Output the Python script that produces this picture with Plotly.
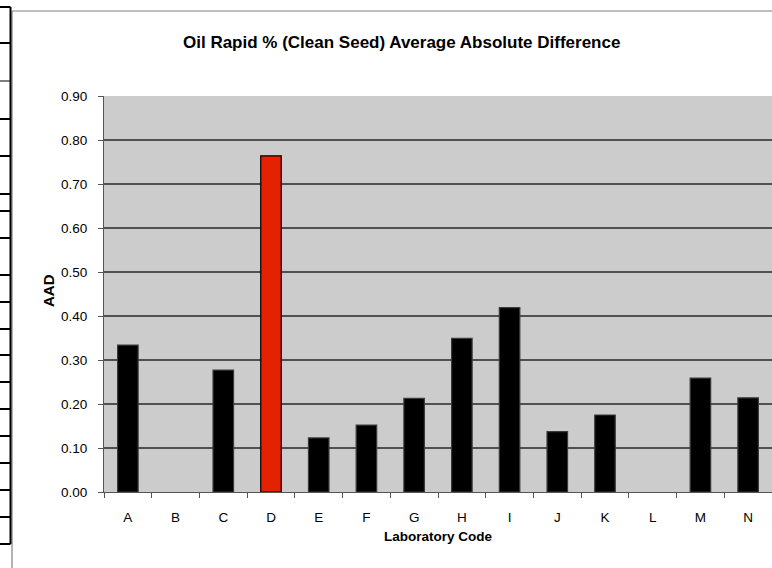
import plotly.graph_objects as go

# Laboratory codes and their AAD values (B and L have no result)
labs = ["A", "B", "C", "D", "E", "F", "G", "H", "I", "J", "K", "L", "M", "N"]
aad = [0.334, None, 0.277, 0.764, 0.123, 0.152, 0.213, 0.349, 0.419, 0.137, 0.175, None, 0.259, 0.214]
highlight = "D"

y_ticks = [0.0, 0.1, 0.2, 0.3, 0.4, 0.5, 0.6, 0.7, 0.8, 0.9]

W, H = 772, 568
L, R, T, B = 104, 772, 96, 492  # plot area in pixels


def px_x(x):
    return (x - L) / (R - L)


def px_y(y):
    return (B - y) / (B - T)


colors = ["#E42200" if lab == highlight else "black" for lab in labs]
outlines = ["black" if lab == highlight else "#3a3a3a" for lab in labs]

fig = go.Figure(go.Bar(
    x=labs,
    y=aad,
    width=0.43,
    marker=dict(color=colors, line=dict(color=outlines, width=1.2)),
))

font = "Liberation Sans, Arial, sans-serif"

# chart border + spreadsheet cell borders to the left of the chart
shapes = []
shapes.append(dict(type="line", xref="paper", yref="paper",
                   x0=px_x(12), x1=px_x(772), y0=px_y(11), y1=px_y(11),
                   line=dict(color="#808080", width=1.2)))
shapes.append(dict(type="line", xref="paper", yref="paper",
                   x0=px_x(12), x1=px_x(12), y0=px_y(11), y1=px_y(568),
                   line=dict(color="#808080", width=1.2)))
shapes.append(dict(type="line", xref="paper", yref="paper",
                   x0=px_x(10.5), x1=px_x(10.5), y0=px_y(7), y1=px_y(544),
                   line=dict(color="black", width=2)))
for yy in [7, 43, 81, 119, 156, 194, 211, 238, 275, 302, 329, 355, 382, 409, 436, 463, 490, 517, 544]:
    shapes.append(dict(type="line", xref="paper", yref="paper",
                       x0=px_x(0), x1=px_x(10.5), y0=px_y(yy), y1=px_y(yy),
                       line=dict(color="black", width=1 if yy == 81 else 2)))

fig.update_layout(
    width=W, height=H,
    margin=dict(l=L, r=W - R, t=T, b=H - B, pad=0),
    paper_bgcolor="white",
    plot_bgcolor="#CCCCCC",
    showlegend=False,
    font=dict(family=font, size=13.5, color="black"),
    shapes=shapes,
    annotations=[
        dict(text="<b>Oil Rapid % (Clean Seed) Average Absolute Difference</b>",
             xref="paper", yref="paper", x=px_x(401.5), y=px_y(43),
             showarrow=False, font=dict(size=17), xanchor="center", yanchor="middle"),
        dict(text="<b>Laboratory Code</b>", xref="paper", yref="paper",
             x=px_x(438), y=px_y(536), showarrow=False, font=dict(size=13.5),
             xanchor="center", yanchor="middle"),
        dict(text="<b>AAD</b>", xref="paper", yref="paper", textangle=-90,
             x=px_x(48), y=px_y(291), showarrow=False, font=dict(size=15),
             xanchor="center", yanchor="middle"),
    ],
)

fig.update_xaxes(
    type="category",
    tickson="boundaries",
    ticks="outside", ticklen=5, tickcolor="#555555",
    showline=True, linecolor="#555555", linewidth=1.2,
    showgrid=False,
    ticklabelstandoff=13,
)
fig.update_yaxes(
    range=[0, 0.9],
    tickvals=y_ticks,
    tickformat=".2f",
    ticks="outside", ticklen=5, tickcolor="#555555",
    showline=True, linecolor="#555555", linewidth=1.2,
    showgrid=True, gridcolor="#505050", gridwidth=1.6,
    zeroline=False,
    ticklabelstandoff=8,
)

# the page's default body margin would shift the chart by 8px
fig.write_html("out.html", config={"displayModeBar": False},
               post_script="document.body.style.margin='0';")
